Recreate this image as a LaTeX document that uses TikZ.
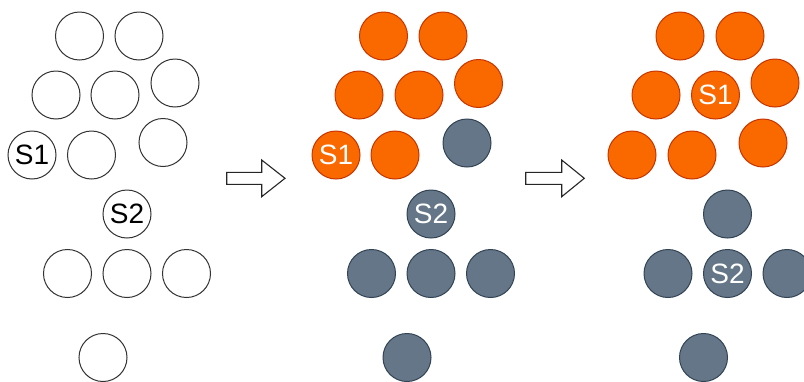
\documentclass[tikz,border=0pt]{standalone}
\usepackage{fontspec}
\setmainfont{Liberation Sans}
\definecolor{orfill}{HTML}{FA6800}
\definecolor{orline}{HTML}{C73500}
\definecolor{slfill}{HTML}{647687}
\definecolor{slline}{HTML}{314354}
\begin{document}
\begin{tikzpicture}[x=1pt,y=-1pt,
  ball/.style={circle,minimum size=48pt,inner sep=0pt,line width=1pt,
    font=\fontsize{28}{28}\selectfont},
  plain/.style={ball,draw=black!80,fill=white,text=black},
  hot/.style={ball,draw=orline,fill=orfill,text=white},
  cold/.style={ball,draw=slline,fill=slfill,text=white},
  blockarrow/.style={draw=black!85,line width=1.1pt,fill=white,line join=miter}]
\useasboundingbox (0,0) rectangle (804,381);
\fill[white] (0,0) rectangle (804,381);

% left: initial state
\node[plain] (a1) at (79.5,36) {};
\node[plain] (a2) at (139,36) {};
\node[plain] (a3) at (56,95) {};
\node[plain] (a4) at (115,95) {};
\node[plain] (a5) at (175,83) {};
\node[plain] (a6) at (32,155) {S1};
\node[plain] (a7) at (91.5,155) {};
\node[plain] (a8) at (163,142.5) {};
\node[plain] (a9) at (127,214) {S2};
\node[plain] (a10) at (67.5,273.5) {};
\node[plain] (a11) at (127,273.5) {};
\node[plain] (a12) at (186.5,273.5) {};
\node[plain] (a13) at (103,357.5) {};

% middle: after one step
\node[hot] (b1) at (383.5,36) {};
\node[hot] (b2) at (443,36) {};
\node[hot] (b3) at (359,95) {};
\node[hot] (b4) at (419,95) {};
\node[hot] (b5) at (478.5,83.5) {};
\node[hot] (b6) at (336,155) {S1};
\node[hot] (b7) at (395,155) {};
\node[cold] (b8) at (467,143) {};
\node[cold] (b9) at (431,214) {S2};
\node[cold] (b10) at (371.5,273.5) {};
\node[cold] (b11) at (431,273.5) {};
\node[cold] (b12) at (490.5,273.5) {};
\node[cold] (b13) at (407,357.5) {};

% right: final state
\node[hot] (c1) at (680,36) {};
\node[hot] (c2) at (740,36) {};
\node[hot] (c3) at (656,95) {};
\node[hot] (c4) at (715.5,95) {S1};
\node[hot] (c5) at (775,83) {};
\node[hot] (c6) at (632,155) {};
\node[hot] (c7) at (692,155) {};
\node[hot] (c8) at (763,143) {};
\node[cold] (c9) at (727.5,214) {};
\node[cold] (c10) at (668,273.5) {};
\node[cold] (c11) at (727.5,273.5) {S2};
\node[cold] (c12) at (787,273.5) {};
\node[cold] (c13) at (703.5,357.5) {};

% block arrows between the states
\draw[blockarrow] (226.7,172.3) -- (261.7,172.3) -- (261.7,160) -- (285,178.3)
  -- (261.7,196.7) -- (261.7,184.3) -- (226.7,184.3) -- cycle;
\draw[blockarrow] (525.7,172.3) -- (561.7,172.3) -- (561.7,160) -- (584.3,178.3)
  -- (561.7,196.7) -- (561.7,184.3) -- (525.7,184.3) -- cycle;
\end{tikzpicture}
\end{document}
